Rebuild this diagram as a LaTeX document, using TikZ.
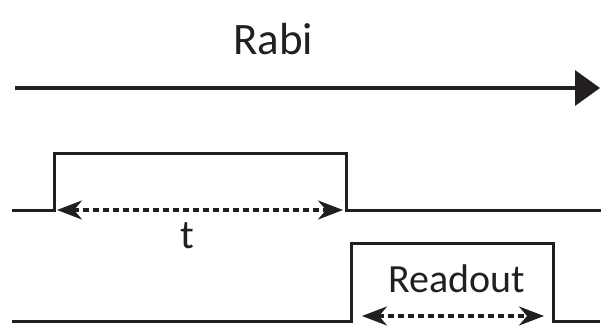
\documentclass[tikz,border=0pt]{standalone}
\usepackage{fontspec}
\setmainfont{Carlito}
\usetikzlibrary{arrows.meta}
\definecolor{ink}{HTML}{231F20}
\tikzset{
  x=1pt, y=1pt,
  wave/.style={draw=ink, line width=3pt},
  span/.style={draw=ink, line width=3.3pt, dash pattern=on 6pt off 4pt,
    {Stealth[length=25pt,width=19pt,inset=8pt]}-{Stealth[length=25pt,width=19pt,inset=8pt]}},
  timeline/.style={draw=ink, line width=3.5pt, -{Triangle[length=25pt,width=35pt]}},
  lbl/.style={text=ink, anchor=base, inner sep=0pt}
}
\begin{document}
\begin{tikzpicture}
\useasboundingbox (0,0) rectangle (601,325);
% title and time axis
\node[lbl, font=\fontsize{45}{50}\selectfont] (title) at (273,271) {Rabi};
\coordinate (axisL) at (15,237);
\coordinate (axisR) at (600,237);
\draw[timeline] (axisL) -- (axisR);
% drive pulse
\coordinate (d0) at (12,115);
\coordinate (d1) at (54,115);
\coordinate (d2) at (54,172);
\coordinate (d3) at (346,172);
\coordinate (d4) at (346,115);
\coordinate (d5) at (601,115);
\draw[wave] (d0) -- (d1) -- (d2) -- (d3) -- (d4) -- (d5);
\coordinate (tL) at (57,115);
\coordinate (tR) at (343,115);
\draw[span] (tL) -- (tR);
\node[lbl, font=\fontsize{41}{44}\selectfont] (tlabel) at (187,77) {t};
% readout pulse
\coordinate (r0) at (12,4);
\coordinate (r1) at (351,4);
\coordinate (r2) at (351,82);
\coordinate (r3) at (553,82);
\coordinate (r4) at (553,4);
\coordinate (r5) at (600,4);
\draw[wave] (r0) -- (r1) -- (r2) -- (r3) -- (r4) -- (r5);
\coordinate (rL) at (362,9);
\coordinate (rR) at (544,9);
\draw[span] (rL) -- (rR);
\node[lbl, font=\fontsize{40}{44}\selectfont] (rlabel) at (457,33) {Readout};
\end{tikzpicture}
\end{document}
